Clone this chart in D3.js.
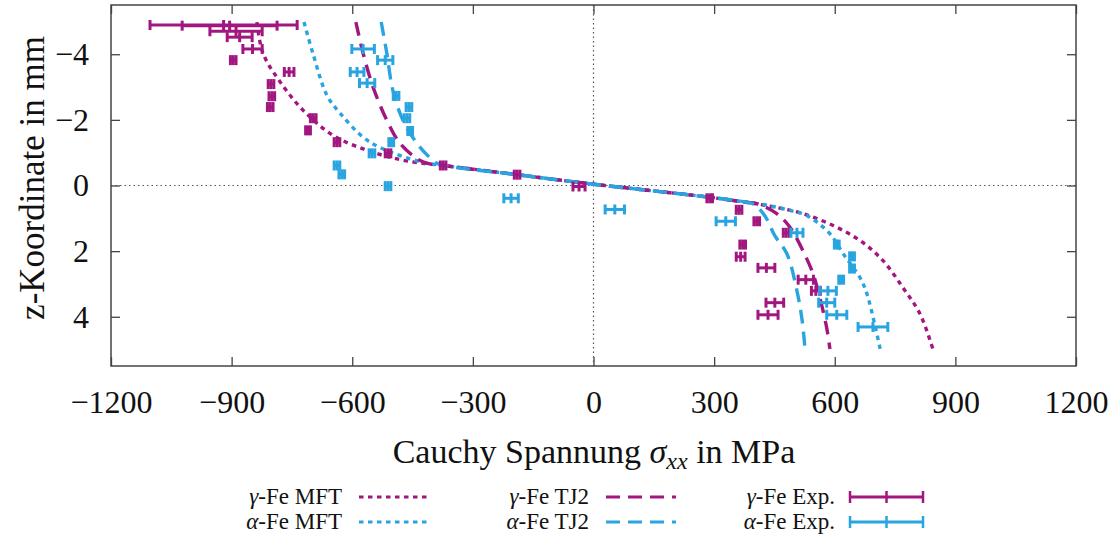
<!DOCTYPE html>
<html>
<head>
<meta charset="utf-8">
<script src="https://cdn.jsdelivr.net/npm/d3@7"></script>
<style>
  body { margin: 0; background: #fff; }
  svg text { font-family: "Liberation Serif", "DejaVu Serif", serif; fill: #111; }
</style>
</head>
<body>
<svg id="chart" width="1110" height="537"></svg>
<script>
// ticks
var xTicks = [-1200, -900, -600, -300, 0, 300, 600, 900, 1200];
var zTicks = [-4, -2, 0, 2, 4];

// model curves, [stress MPa, z mm]
var gammaMFT = [[-837,-4.98],[-822,-4.03],[-779,-3.15],[-722,-2.29],[-648,-1.53],[-563,-1.07],[-481,-0.79],[-420,-0.67],[-374,-0.61],
  [-190,-0.33],[0,-0.04],[190,0.22],[290,0.36],[389,0.53],[456,0.67],[521,0.86],[596,1.22],[663,1.68],[720,2.29],[770,3.12],[812,3.91],[844,4.98]];
var alphaMFT = [[-720,-4.98],[-698,-4.03],[-663,-2.75],[-630,-2.20],[-573,-1.47],[-531,-1.16],[-456,-0.81],[-410,-0.67],[-374,-0.61],
  [-190,-0.33],[0,-0.04],[190,0.22],[290,0.36],[380,0.51],[431,0.60],[489,0.76],[531,0.92],[588,1.47],[621,2.08],[663,2.81],[680,3.30],[713,4.98]];
var gammaTJ2 = [[-591,-4.98],[-573,-4.03],[-548,-2.99],[-514,-1.99],[-481,-1.28],[-439,-0.82],[-415,-0.68],[-374,-0.61],
  [-190,-0.33],[0,-0.04],[190,0.22],[290,0.36],[380,0.51],[406,0.55],[456,0.86],[489,1.28],[521,1.99],[546,2.69],[563,3.42],[580,4.34],[588,4.98]];
var alphaTJ2 = [[-528,-4.98],[-514,-4.03],[-499,-2.90],[-474,-1.99],[-439,-1.28],[-407,-0.85],[-388,-0.67],[-374,-0.61],
  [-190,-0.33],[0,-0.04],[190,0.22],[290,0.36],[380,0.51],[400,0.58],[426,0.92],[451,1.53],[481,2.08],[506,3.21],[519,4.12],[526,4.98]];

// experiments: z, stress, error
var gammaExpZ   = [-4.89,-4.87,-4.70,-4.52,-4.16,-3.82,-3.46,-3.09,-2.72,-2.39,-2.05,-1.68,-1.32,-0.98,-0.61,-0.33,0.03,0.39,0.74,1.09,1.44,1.80,2.17,2.51,2.87,3.21,3.57,3.94];
var gammaExpS   = [-920,-905,-889,-880,-848,-896,-757,-802,-800,-804,-697,-710,-638,-511,-374,-190,-36,289,362,406,479,371,366,430,528,553,451,434];
var gammaExpErr = [183,118,65,31,24,7,12,7,7,7,7,6,7,7,7,7,15,7,7,7,7,7,11,21,19,11,22,25];
var alphaExpZ   = [-4.16,-3.82,-3.46,-3.12,-2.73,-2.39,-2.05,-1.66,-1.32,-0.98,-0.61,-0.34,0.02,0.39,0.73,1.09,1.44,1.80,2.16,2.53,2.87,3.21,3.57,3.94,4.31];
var alphaExpS   = [-573,-518,-588,-563,-491,-459,-464,-456,-503,-551,-638,-626,-511,-205,53,329,506,605,643,643,616,583,580,605,695];
var alphaExpErr = [28,19,17,19,7,7,7,6,6,7,7,7,7,18,24,24,15,6,6,6,6,21,20,25,37];

var magenta = "#a2177f", blue = "#28a4e0";

var svg = d3.select("#chart");
var pLeft = 111, pRight = 1076, pTop = 5, pBottom = 366;

var x = d3.scaleLinear().domain([-1200, 1200]).range([pLeft, pRight]);
var y = d3.scaleLinear().domain([-5.5, 5.5]).range([pTop, pBottom]);
var fmt = d3.format("");

// zero lines
svg.append("line").attr("x1", pLeft).attr("x2", pRight).attr("y1", y(0)).attr("y2", y(0))
  .attr("stroke", "#555").attr("stroke-width", 1.2).attr("stroke-dasharray", "1.5,3");
svg.append("line").attr("x1", x(0)).attr("x2", x(0)).attr("y1", pTop).attr("y2", pBottom)
  .attr("stroke", "#555").attr("stroke-width", 1.2).attr("stroke-dasharray", "1.5,3");

// axes, ticks inward on all sides
function styleAxis(g, hideText) {
  g.select(".domain").remove();
  g.selectAll(".tick line").attr("stroke", "#444").attr("stroke-width", 1.3);
  if (hideText) g.selectAll(".tick text").remove();
  else g.selectAll(".tick text").style("font-size", "32px").attr("fill", "#111");
}
svg.append("g").attr("transform", "translate(0," + pBottom + ")")
  .call(d3.axisBottom(x).tickValues(xTicks).tickFormat(fmt).tickSizeInner(-9).tickSizeOuter(0).tickPadding(17))
  .call(styleAxis, false)
  .selectAll(".tick text").attr("dy", "0.93em");
svg.append("g").attr("transform", "translate(0," + pTop + ")")
  .call(d3.axisTop(x).tickValues(xTicks).tickSizeInner(-9).tickSizeOuter(0))
  .call(styleAxis, true);
svg.append("g").attr("transform", "translate(" + pLeft + ",0)")
  .call(d3.axisLeft(y).tickValues(zTicks).tickFormat(fmt).tickSizeInner(-9).tickSizeOuter(0).tickPadding(22))
  .call(styleAxis, false);
svg.append("g").attr("transform", "translate(" + pRight + ",0)")
  .call(d3.axisRight(y).tickValues(zTicks).tickSizeInner(-9).tickSizeOuter(0))
  .call(styleAxis, true);

svg.append("rect").attr("x", pLeft).attr("y", pTop).attr("width", pRight - pLeft).attr("height", pBottom - pTop)
  .attr("fill", "none").attr("stroke", "#444").attr("stroke-width", 1.5);

// curves
var line = d3.line().x(function(d) { return x(d[0]); }).y(function(d) { return y(d[1]); })
  .curve(d3.curveCatmullRom.alpha(0.5));
var curves = [
  { data: gammaMFT, color: magenta, dash: "4.5,4.5" },
  { data: alphaMFT, color: blue, dash: "4.5,4.5" },
  { data: gammaTJ2, color: magenta, dash: "14,8" },
  { data: alphaTJ2, color: blue, dash: "14,8" }
];
curves.forEach(function(c) {
  svg.append("path").attr("d", line(c.data)).attr("fill", "none")
    .attr("stroke", c.color).attr("stroke-width", 3.4).attr("stroke-dasharray", c.dash);
});

// error bars
function errorBars(zs, ss, es, color) {
  var g = svg.append("g").attr("stroke", color).attr("stroke-width", 3).attr("fill", "none");
  zs.forEach(function(z, i) {
    var cy = y(z), x0 = x(ss[i] - es[i]), x1 = x(ss[i] + es[i]), cx = x(ss[i]);
    g.append("line").attr("x1", x0).attr("x2", x1).attr("y1", cy).attr("y2", cy);
    [x0, cx, x1].forEach(function(px) {
      g.append("line").attr("x1", px).attr("x2", px).attr("y1", cy - 5).attr("y2", cy + 5);
    });
  });
}
errorBars(gammaExpZ, gammaExpS, gammaExpErr, magenta);
errorBars(alphaExpZ, alphaExpS, alphaExpErr, blue);

// axis titles
var xt = svg.append("text").attr("x", 594).attr("y", 463).attr("text-anchor", "middle").style("font-size", "34px");
xt.append("tspan").text("Cauchy Spannung ");
xt.append("tspan").attr("font-style", "italic").text("σ");
xt.append("tspan").attr("font-style", "italic").attr("dy", 6).style("font-size", "24px").text("xx");
xt.append("tspan").attr("dy", -6).text(" in MPa");

svg.append("text").attr("transform", "translate(44,178) rotate(-90)").attr("text-anchor", "middle")
  .style("font-size", "35px").text("z-Koordinate in mm");

// legend
var legendItems = [
  { greek: "γ", name: "-Fe MFT", color: magenta, kind: "mft", tx: 342, sx: 359, row: 0 },
  { greek: "α", name: "-Fe MFT", color: blue, kind: "mft", tx: 342, sx: 359, row: 1 },
  { greek: "γ", name: "-Fe TJ2", color: magenta, kind: "tj2", tx: 589, sx: 606, row: 0 },
  { greek: "α", name: "-Fe TJ2", color: blue, kind: "tj2", tx: 589, sx: 606, row: 1 },
  { greek: "γ", name: "-Fe Exp.", color: magenta, kind: "exp", tx: 835, sx: 850, row: 0 },
  { greek: "α", name: "-Fe Exp.", color: blue, kind: "exp", tx: 835, sx: 850, row: 1 }
];
legendItems.forEach(function(it) {
  var cy = 497 + it.row * 25;
  var t = svg.append("text").attr("x", it.tx).attr("y", cy + 7).attr("text-anchor", "end").style("font-size", "23px");
  t.append("tspan").attr("font-style", "italic").text(it.greek);
  t.append("tspan").text(it.name);
  var len = it.kind === "exp" ? 73 : 70;
  var l = svg.append("line").attr("x1", it.sx).attr("x2", it.sx + len).attr("y1", cy).attr("y2", cy)
    .attr("stroke", it.color).attr("stroke-width", 3);
  if (it.kind === "mft") l.attr("stroke-dasharray", "4.5,4.5");
  if (it.kind === "tj2") l.attr("stroke-dasharray", "14,8");
  if (it.kind === "exp") {
    [it.sx, it.sx + len / 2, it.sx + len].forEach(function(px) {
      svg.append("line").attr("x1", px).attr("x2", px).attr("y1", cy - 6).attr("y2", cy + 6)
        .attr("stroke", it.color).attr("stroke-width", 2.5);
    });
  }
});
</script>
</body>
</html>
